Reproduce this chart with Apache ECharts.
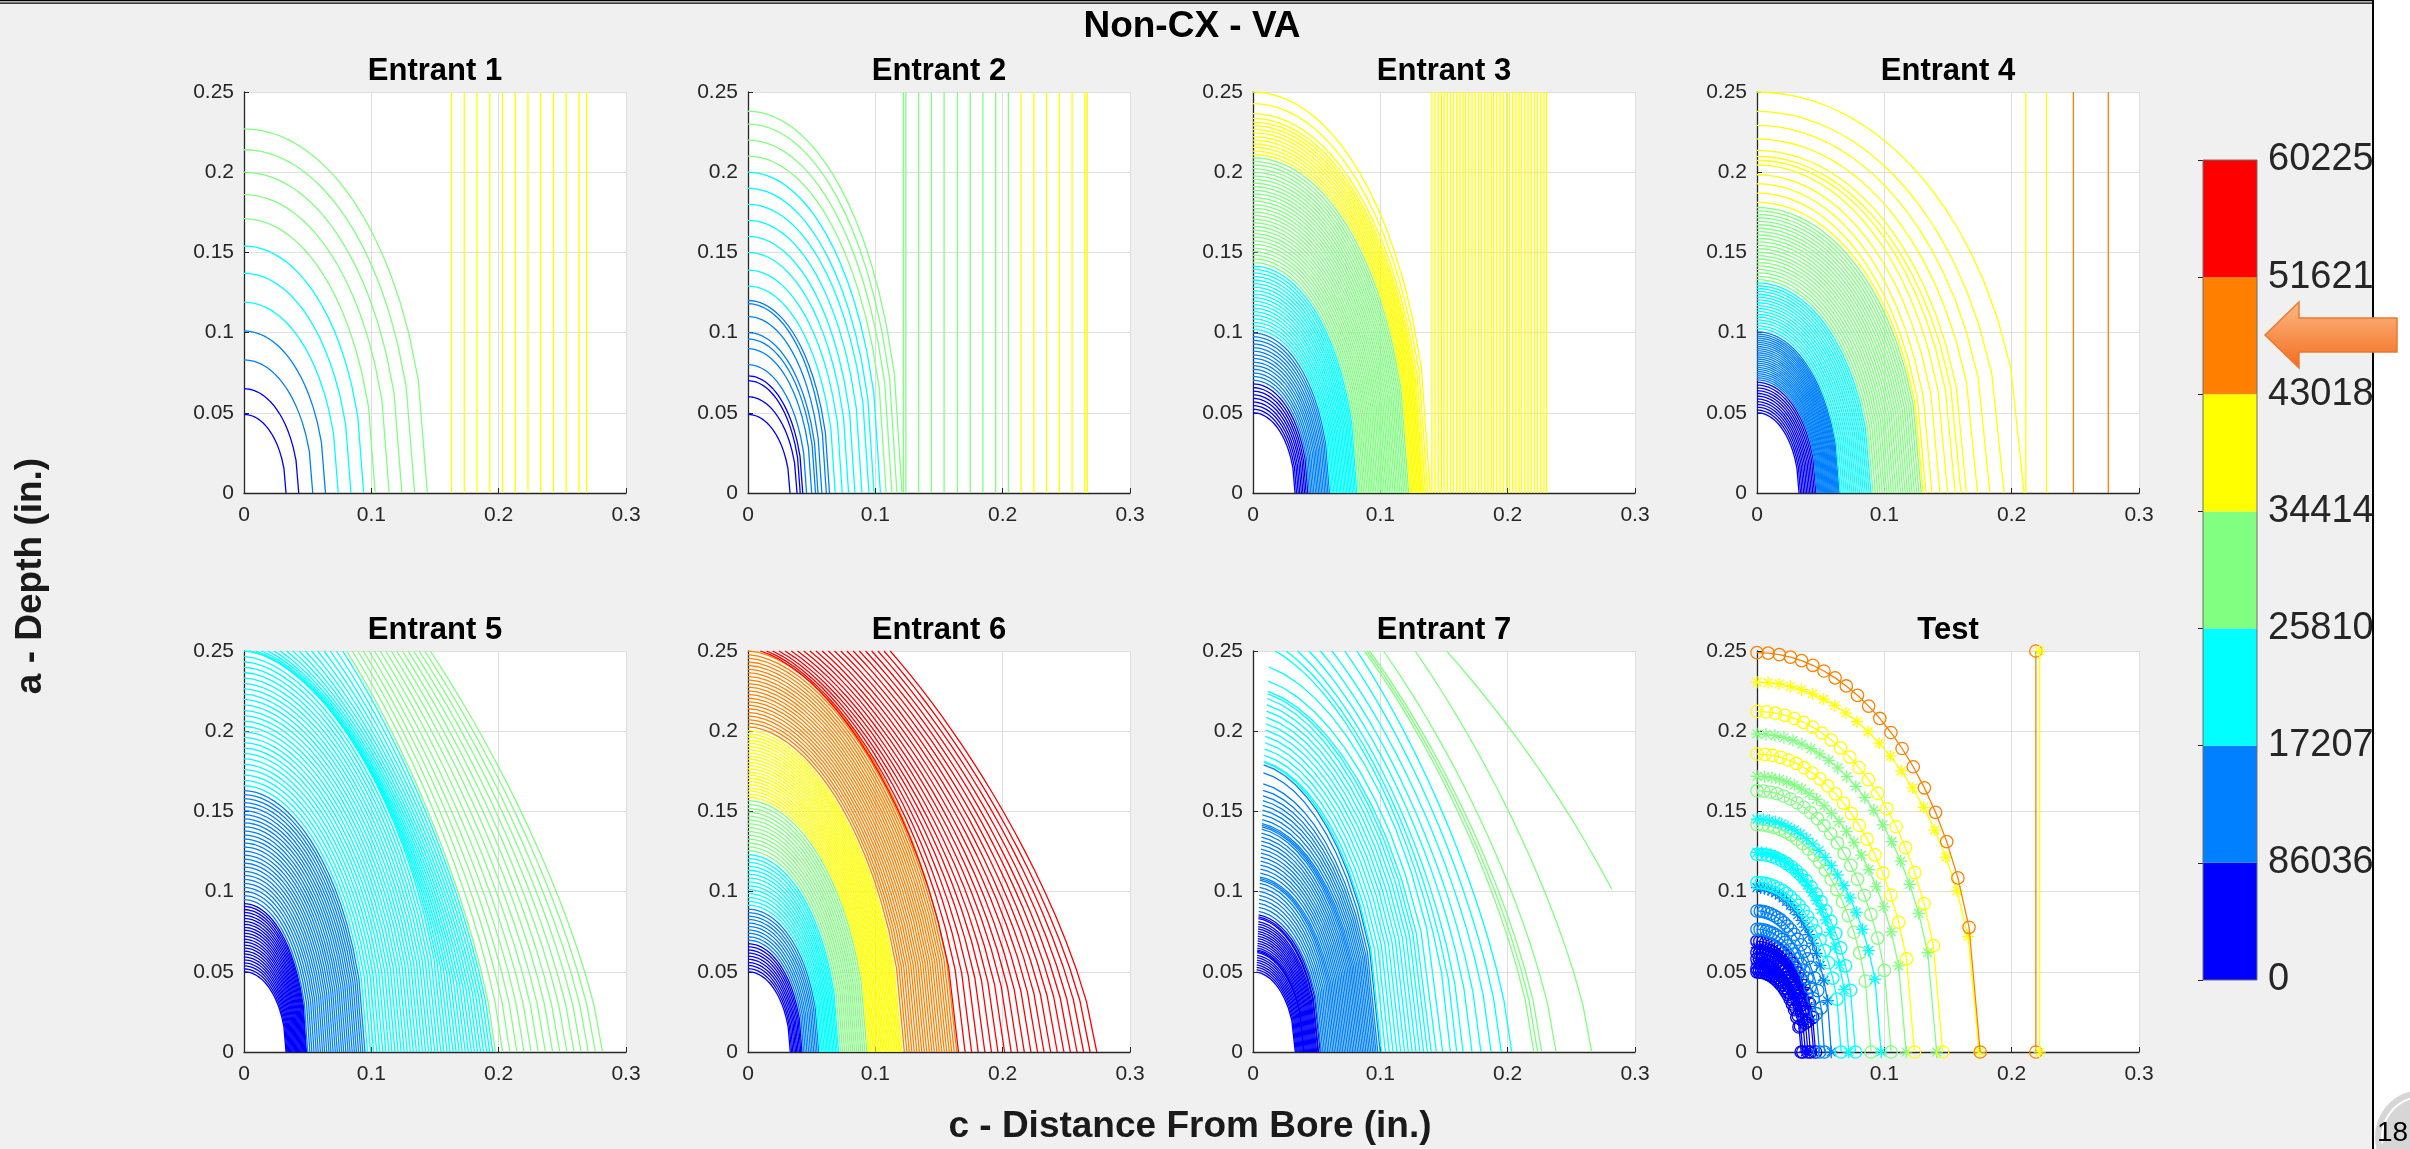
<!DOCTYPE html>
<html>
<head>
<meta charset="utf-8">
<title>Non-CX - VA</title>
<script src="https://cdn.jsdelivr.net/npm/echarts@6/dist/echarts.min.js"></script>
<style>
  html, body { margin: 0; padding: 0; background: #ffffff; overflow: hidden; }
  #chart { width: 2410px; height: 1149px; }
</style>
</head>
<body>
<div id="chart"></div>
<script>
// Crack-front contours: surface length c (in.) against depth a (in.), one curve per
// recorded front, coloured by the cycle band shown in the colour bar.

const LEVEL_COLORS = ['#0000FF', '#0080FF', '#00FFFF', '#80FF80', '#FFFF00', '#FF8000', '#FF0000'];
const COLORBAR_LABELS = ['0', '86036', '17207', '25810', '34414', '43018', '51621', '60225'];
const PANEL_TITLES = ['Entrant 1', 'Entrant 2', 'Entrant 3', 'Entrant 4', 'Entrant 5', 'Entrant 6', 'Entrant 7', 'Test'];
const FIGURE_TITLE = 'Non-CX - VA';
const X_TITLE = 'c - Distance From Bore (in.)';
const Y_TITLE = 'a - Depth (in.)';
const PAGE_NUMBER = '18';

// Fronts grouped by colour band (outer index = band): c at the surface, a at the bore.
const ENTRANT_1_C = [[0.033, 0.043], [0.054, 0.064], [0.074, 0.084, 0.094], [0.103, 0.114, 0.124, 0.134, 0.144]];
const ENTRANT_1_A = [[0.049, 0.065], [0.083, 0.101], [0.119, 0.137, 0.154], [0.171, 0.186, 0.200, 0.214, 0.227]];
// Through-thickness fronts (vertical), c by band.
const ENTRANT_1_THROUGH = [[], [], [], [], [0.163, 0.173, 0.183, 0.193, 0.203, 0.213, 0.223, 0.233, 0.243, 0.253, 0.263, 0.269]];

const ENTRANT_2_C = [
  [0.033, 0.0385, 0.041, 0.043],
  [0.046, 0.050, 0.053, 0.055, 0.058, 0.0615, 0.064],
  [0.0685, 0.074, 0.079, 0.084, 0.0895, 0.095, 0.099, 0.104],
  [0.1085, 0.113, 0.117, 0.121]
];
const ENTRANT_2_A = [
  [0.049, 0.060, 0.070, 0.073],
  [0.080, 0.090, 0.096, 0.100, 0.110, 0.118, 0.120],
  [0.129, 0.139, 0.150, 0.160, 0.170, 0.180, 0.190, 0.200],
  [0.210, 0.220, 0.230, 0.238]
];
const ENTRANT_2_THROUGH = [[], [], [],
  [0.122, 0.124, 0.134, 0.144, 0.154, 0.1645, 0.1745, 0.1845, 0.1945, 0.2045],
  [0.2145, 0.2245, 0.2345, 0.2445, 0.2545, 0.2645, 0.2665]];

const ENTRANT_3_C = [
  [0.0330, 0.0342, 0.0355, 0.0367, 0.0380, 0.0392, 0.0405, 0.0417, 0.0430],
  [0.0442, 0.0454, 0.0466, 0.0478, 0.0491, 0.0503, 0.0515, 0.0527, 0.0539, 0.0551, 0.0564, 0.0576, 0.0588, 0.0600],
  [0.0612, 0.0623, 0.0634, 0.0646, 0.0657, 0.0668, 0.0680, 0.0691, 0.0702, 0.0714, 0.0725, 0.0736, 0.0748, 0.0759, 0.0770, 0.0781, 0.0793, 0.0804, 0.0815],
  [0.0828, 0.0842, 0.0855, 0.0869, 0.0882, 0.0896, 0.0910, 0.0923, 0.0937, 0.0950, 0.0964, 0.0978, 0.0991, 0.1005, 0.1018, 0.1032, 0.1046, 0.1059, 0.1073, 0.1086, 0.1100, 0.1114, 0.1127, 0.1141, 0.1154, 0.1168, 0.1182, 0.1195, 0.1209, 0.1222],
  [0.1235, 0.1245, 0.1256, 0.1266, 0.1276, 0.1287, 0.1297, 0.1308, 0.1318, 0.1329, 0.1340, 0.1355, 0.1372, 0.1392]
];
const ENTRANT_3_A = [
  [0.0500, 0.0522, 0.0545, 0.0567, 0.0590, 0.0612, 0.0635, 0.0657, 0.0680],
  [0.0703, 0.0726, 0.0748, 0.0771, 0.0794, 0.0816, 0.0839, 0.0861, 0.0884, 0.0906, 0.0929, 0.0952, 0.0974, 0.0997],
  [0.1020, 0.1042, 0.1064, 0.1086, 0.1108, 0.1130, 0.1152, 0.1174, 0.1196, 0.1218, 0.1240, 0.1262, 0.1284, 0.1306, 0.1328, 0.1350, 0.1372, 0.1394, 0.1415],
  [0.1437, 0.1460, 0.1482, 0.1505, 0.1527, 0.1550, 0.1572, 0.1595, 0.1617, 0.1640, 0.1662, 0.1685, 0.1707, 0.1730, 0.1752, 0.1775, 0.1797, 0.1820, 0.1842, 0.1865, 0.1887, 0.1910, 0.1932, 0.1955, 0.1977, 0.2000, 0.2022, 0.2045, 0.2067, 0.2090],
  [0.2110, 0.2132, 0.2155, 0.2177, 0.2200, 0.2222, 0.2245, 0.2267, 0.2290, 0.2312, 0.2335, 0.2365, 0.2427, 0.2500]
];
const ENTRANT_3_THROUGH = [[], [], [], [],
  [0.1405, 0.1430, 0.1455, 0.1480, 0.1500, 0.1525, 0.1550, 0.1575, 0.1600, 0.1625, 0.1650, 0.1670, 0.1695, 0.1720, 0.1745, 0.1770, 0.1795, 0.1820, 0.1845,
   0.1870, 0.1890, 0.1915, 0.1940, 0.1965, 0.1990, 0.2015, 0.2040, 0.2065, 0.2090, 0.2110, 0.2135, 0.2160, 0.2185, 0.2210, 0.2235, 0.2260, 0.2285, 0.2305]];

const ENTRANT_4_C = [
  [0.0330, 0.0342, 0.0354, 0.0366, 0.0378, 0.0390, 0.0402, 0.0414, 0.0426, 0.0438, 0.0450, 0.0462],
  [0.0472, 0.0480, 0.0487, 0.0495, 0.0502, 0.0510, 0.0517, 0.0525, 0.0532, 0.0540, 0.0547, 0.0555, 0.0562, 0.0570, 0.0577, 0.0585, 0.0592, 0.0600, 0.0607, 0.0615, 0.0622, 0.0630, 0.0637, 0.0645],
  [0.0655, 0.0670, 0.0685, 0.0700, 0.0715, 0.0730, 0.0745, 0.0760, 0.0775, 0.0790, 0.0805, 0.0820, 0.0835, 0.0850, 0.0865, 0.0880, 0.0895],
  [0.0912, 0.0930, 0.0948, 0.0966, 0.0984, 0.1002, 0.1020, 0.1038, 0.1056, 0.1074, 0.1092, 0.1110, 0.1128, 0.1146, 0.1164, 0.1182, 0.1200, 0.1218, 0.1236, 0.1254, 0.1272, 0.1290],
  [0.1305, 0.1327, 0.1374, 0.1437, 0.1497, 0.1557, 0.1602, 0.1646, 0.1732, 0.1829, 0.1941, 0.2098]
];
const ENTRANT_4_A = [
  [0.0500, 0.0517, 0.0535, 0.0552, 0.0569, 0.0586, 0.0604, 0.0621, 0.0638, 0.0655, 0.0673, 0.0690],
  [0.0705, 0.0718, 0.0731, 0.0744, 0.0757, 0.0770, 0.0783, 0.0796, 0.0809, 0.0822, 0.0835, 0.0848, 0.0861, 0.0874, 0.0887, 0.0900, 0.0913, 0.0926, 0.0939, 0.0952, 0.0965, 0.0978, 0.0991, 0.1005],
  [0.1025, 0.1043, 0.1061, 0.1079, 0.1097, 0.1114, 0.1132, 0.1150, 0.1168, 0.1186, 0.1204, 0.1221, 0.1239, 0.1257, 0.1275, 0.1292, 0.1310],
  [0.1330, 0.1351, 0.1373, 0.1394, 0.1416, 0.1437, 0.1459, 0.1480, 0.1501, 0.1523, 0.1544, 0.1566, 0.1587, 0.1609, 0.1630, 0.1651, 0.1673, 0.1694, 0.1716, 0.1737, 0.1759, 0.1780],
  [0.1812, 0.1870, 0.1928, 0.1984, 0.2045, 0.2074, 0.2099, 0.2136, 0.2207, 0.2292, 0.2379, 0.2500]
];
const ENTRANT_4_THROUGH = [[], [], [], [], [0.2111, 0.2273], [0.2485, 0.2759]];

const ENTRANT_5_C = [
  [0.0330, 0.0337, 0.0344, 0.0351, 0.0358, 0.0365, 0.0372, 0.0379, 0.0386, 0.0393, 0.0400, 0.0407, 0.0414, 0.0421, 0.0428, 0.0435, 0.0442, 0.0449, 0.0456, 0.0463, 0.0470, 0.0477, 0.0484, 0.0490],
  [0.0500, 0.0517, 0.0533, 0.0550, 0.0567, 0.0583, 0.0600, 0.0617, 0.0633, 0.0650, 0.0667, 0.0683, 0.0700, 0.0717, 0.0733, 0.0750, 0.0767, 0.0783, 0.0800, 0.0817, 0.0833, 0.0850, 0.0867, 0.0883, 0.0900, 0.0917, 0.0933, 0.0950],
  [0.0970, 0.0994, 0.1018, 0.1042, 0.1066, 0.1090, 0.1114, 0.1138, 0.1162, 0.1186, 0.1210, 0.1234, 0.1258, 0.1282, 0.1306, 0.1330, 0.1354, 0.1378, 0.1402, 0.1426, 0.1450, 0.1474, 0.1498, 0.1522, 0.1546, 0.1570]
];
const ENTRANT_5_A = [
  [0.0500, 0.0518, 0.0537, 0.0555, 0.0574, 0.0592, 0.0611, 0.0629, 0.0648, 0.0666, 0.0685, 0.0703, 0.0722, 0.0740, 0.0759, 0.0777, 0.0796, 0.0814, 0.0833, 0.0851, 0.0870, 0.0888, 0.0907, 0.0925],
  [0.0950, 0.0975, 0.1000, 0.1026, 0.1051, 0.1076, 0.1101, 0.1126, 0.1152, 0.1177, 0.1202, 0.1227, 0.1252, 0.1278, 0.1303, 0.1328, 0.1353, 0.1378, 0.1404, 0.1429, 0.1454, 0.1479, 0.1504, 0.1530, 0.1555, 0.1580, 0.1605, 0.1630],
  [0.1660, 0.1694, 0.1727, 0.1761, 0.1794, 0.1828, 0.1862, 0.1895, 0.1929, 0.1962, 0.1996, 0.2030, 0.2063, 0.2097, 0.2130, 0.2164, 0.2198, 0.2231, 0.2265, 0.2298, 0.2332, 0.2366, 0.2399, 0.2433, 0.2466, 0.2500]
];
// Fronts that have broken through the back face: c at the surface, c where they meet the back face.
const ENTRANT_5_BREAK_C = [[], [],
  [0.1594, 0.1618, 0.1642, 0.1666, 0.1690, 0.1714, 0.1738, 0.1762, 0.1786, 0.1810, 0.1834, 0.1858, 0.1882, 0.1906, 0.1930, 0.1954],
  [0.1975, 0.2031, 0.2087, 0.2143, 0.2199, 0.2255, 0.2311, 0.2367, 0.2424, 0.2480, 0.2536, 0.2592, 0.2648, 0.2704, 0.2760, 0.2816]];
const ENTRANT_5_BREAK_TOP = [[], [],
  [0.0040, 0.0089, 0.0138, 0.0187, 0.0236, 0.0285, 0.0334, 0.0383, 0.0432, 0.0481, 0.0530, 0.0579, 0.0628, 0.0677, 0.0726, 0.0775],
  [0.0806, 0.0850, 0.0894, 0.0937, 0.0981, 0.1025, 0.1069, 0.1113, 0.1156, 0.1200, 0.1244, 0.1288, 0.1332, 0.1375, 0.1419, 0.1463]];

const ENTRANT_6_C = [
  [0.0332, 0.0342, 0.0352, 0.0363, 0.0373, 0.0383, 0.0393, 0.0404, 0.0414, 0.0424],
  [0.0437, 0.0450, 0.0463, 0.0476, 0.0490, 0.0503, 0.0516, 0.0529, 0.0542, 0.0555],
  [0.0566, 0.0577, 0.0588, 0.0599, 0.0611, 0.0622, 0.0633, 0.0644, 0.0655, 0.0666, 0.0677, 0.0689, 0.0700, 0.0711],
  [0.0727, 0.0743, 0.0759, 0.0775, 0.0791, 0.0807, 0.0823, 0.0838, 0.0854, 0.0870, 0.0886, 0.0902, 0.0918, 0.0934],
  [0.0947, 0.0959, 0.0972, 0.0984, 0.0997, 0.1009, 0.1022, 0.1034, 0.1047, 0.1059, 0.1071, 0.1084, 0.1096, 0.1109, 0.1121, 0.1134, 0.1146, 0.1158, 0.1171, 0.1183, 0.1196, 0.1208],
  [0.1228, 0.1248, 0.1267, 0.1287, 0.1306, 0.1326, 0.1346, 0.1365, 0.1385, 0.1404, 0.1424, 0.1444, 0.1463, 0.1483, 0.1502, 0.1522, 0.1542, 0.1561, 0.1581, 0.1600, 0.1620, 0.1640]
];
const ENTRANT_6_A = [
  [0.0500, 0.0519, 0.0539, 0.0558, 0.0578, 0.0597, 0.0617, 0.0636, 0.0656, 0.0675],
  [0.0697, 0.0718, 0.0740, 0.0761, 0.0783, 0.0804, 0.0826, 0.0847, 0.0869, 0.0890],
  [0.0915, 0.0939, 0.0963, 0.0988, 0.1012, 0.1036, 0.1060, 0.1085, 0.1109, 0.1133, 0.1157, 0.1182, 0.1206, 0.1230],
  [0.1255, 0.1279, 0.1303, 0.1327, 0.1351, 0.1375, 0.1399, 0.1423, 0.1447, 0.1471, 0.1495, 0.1519, 0.1543, 0.1567],
  [0.1588, 0.1608, 0.1628, 0.1647, 0.1667, 0.1687, 0.1707, 0.1727, 0.1746, 0.1766, 0.1786, 0.1806, 0.1826, 0.1846, 0.1865, 0.1885, 0.1905, 0.1925, 0.1945, 0.1964, 0.1984, 0.2004],
  [0.2027, 0.2050, 0.2072, 0.2095, 0.2117, 0.2140, 0.2162, 0.2185, 0.2207, 0.2230, 0.2252, 0.2275, 0.2297, 0.2320, 0.2342, 0.2365, 0.2387, 0.2410, 0.2432, 0.2455, 0.2477, 0.2500]
];
const ENTRANT_6_BREAK_C = [[], [], [], [], [], [],
  [0.1653, 0.1705, 0.1756, 0.1808, 0.1860, 0.1912, 0.1963, 0.2015, 0.2067, 0.2118, 0.2170, 0.2222, 0.2274, 0.2325, 0.2377, 0.2429, 0.2481, 0.2532, 0.2584, 0.2636, 0.2687, 0.2739]];
const ENTRANT_6_BREAK_TOP = [[], [], [], [], [], [],
  [0.0097, 0.0146, 0.0194, 0.0243, 0.0291, 0.0340, 0.0389, 0.0437, 0.0486, 0.0534, 0.0583, 0.0631, 0.0680, 0.0729, 0.0777, 0.0826, 0.0874, 0.0923, 0.0971, 0.1020, 0.1068, 0.1117]];

const ENTRANT_7_C = [
  [0.0332, 0.0340, 0.0348, 0.0356, 0.0364, 0.0372, 0.0380, 0.0388, 0.0396, 0.0400, 0.0404, 0.0412, 0.0420, 0.0428, 0.0436, 0.0444, 0.0452, 0.0460, 0.0468, 0.0476, 0.0484, 0.0492, 0.0500, 0.0510, 0.0515, 0.0528],
  [0.0535, 0.0548, 0.0561, 0.0574, 0.0587, 0.0600, 0.0614, 0.0627, 0.0640, 0.0653, 0.0666, 0.0679, 0.0692, 0.0705, 0.0718, 0.0731, 0.0744, 0.0757, 0.0770, 0.0783, 0.0796, 0.0809, 0.0822, 0.0835, 0.0848, 0.0861, 0.0874, 0.0887, 0.0900, 0.0913, 0.0926, 0.0940, 0.0953, 0.0966, 0.0980, 0.0999],
  [0.1010, 0.1040, 0.1070, 0.1100, 0.1130, 0.1160, 0.1190, 0.1220, 0.1250, 0.1280, 0.1310, 0.1340, 0.1370, 0.1400, 0.1440, 0.1490]
];
const ENTRANT_7_A = [
  [0.0500, 0.0515, 0.0530, 0.0545, 0.0560, 0.0575, 0.0590, 0.0605, 0.0622, 0.0630, 0.0638, 0.0650, 0.0665, 0.0680, 0.0695, 0.0710, 0.0725, 0.0740, 0.0755, 0.0770, 0.0785, 0.0800, 0.0815, 0.0835, 0.0845, 0.0858],
  [0.0880, 0.0905, 0.0930, 0.0955, 0.0980, 0.1005, 0.1030, 0.1055, 0.1075, 0.1085, 0.1095, 0.1120, 0.1145, 0.1170, 0.1195, 0.1220, 0.1245, 0.1270, 0.1295, 0.1320, 0.1345, 0.1370, 0.1395, 0.1410, 0.1420, 0.1430, 0.1455, 0.1485, 0.1515, 0.1545, 0.1575, 0.1605, 0.1640, 0.1680, 0.1750, 0.1800],
  [0.1817, 0.1822, 0.1860, 0.1900, 0.1940, 0.1980, 0.2020, 0.2060, 0.2100, 0.2140, 0.2180, 0.2220, 0.2250, 0.2265, 0.2330, 0.2420]
];
const ENTRANT_7_BREAK_C = [[], [],
  [0.1550, 0.1600, 0.1650, 0.1720, 0.1790, 0.1870, 0.1950, 0.2032],
  [0.2205, 0.2235, 0.2268, 0.2380, 0.2660, 0.3300]];
const ENTRANT_7_BREAK_TOP = [[], [],
  [0.0175, 0.0260, 0.0350, 0.0440, 0.0530, 0.0620, 0.0720, 0.0816],
  [0.0875, 0.0895, 0.0915, 0.1025, 0.1274, 0.1520]];
// Plate edge reached by the last Entrant 7 front.
const ENTRANT_7_EDGE = 0.2817;

// Test fronts, one per record; marker 0 = circle, 1 = asterisk.
const TEST_C = [0.1753, 0.1745, 0.1458, 0.1411, 0.1236, 0.1171, 0.1053, 0.0975, 0.0896, 0.0773, 0.0720, 0.0661, 0.0583, 0.0530, 0.0491, 0.0460, 0.0445, 0.0420, 0.0400, 0.0380, 0.0360, 0.0347];
const TEST_A = [0.2490, 0.2306, 0.2123, 0.1983, 0.1858, 0.1719, 0.1629, 0.1452, 0.1417, 0.1233, 0.1245, 0.1056, 0.1025, 0.0879, 0.0765, 0.0690, 0.0650, 0.0620, 0.0580, 0.0550, 0.0520, 0.0500];
const TEST_LEVEL = [5, 4, 4, 3, 4, 3, 3, 2, 3, 2, 2, 2, 1, 1, 1, 0, 0, 0, 0, 0, 0, 0];
const TEST_MARKER = [0, 1, 0, 1, 0, 1, 0, 1, 0, 0, 1, 0, 1, 0, 0, 0, 1, 0, 0, 1, 0, 0];
const TEST_THROUGH_C = [0.219, 0.222];
const TEST_THROUGH_LEVEL = [5, 4];
const TEST_THROUGH_MARKER = [0, 1];

// ---------------------------------------------------------------------------
const FONT = '"Liberation Sans", Arial, Helvetica, sans-serif';
const AXIS_DARK = '#262626';
const THICKNESS = 0.25;        // depth axis limit / back face
const LINE_W = 1.3;
const PANEL_LEFT = [244, 748, 1253, 1757];
const PANEL_TOP = [92, 651];
const PANEL_W = 382;
const PANEL_H = 401;

function byBand(cs, as) {
  const rows = [];
  cs.forEach((list, band) => list.forEach((c, i) => rows.push([c, as[band][i], band])));
  return rows;
}
function throughRows(cs) {
  const rows = [];
  cs.forEach((list, band) => list.forEach(c => rows.push([c, 0, band])));
  return rows;
}

const clamp01 = v => Math.max(0, Math.min(1, v));
// Shape exponent of a front: 2 = quarter ellipse; large fronts in the
// flattening panels straighten out as they approach the back face.
function frontExponent(a, flatten) {
  return flatten ? 2 - 0.3 * clamp01((a - 0.1) / 0.15) : 2;
}
// Front sampled at equal steps of c.
function frontPoints(c, a, p, n, skipFirst) {
  const pts = [];
  for (let k = skipFirst ? 1 : 0; k <= n; k++) {
    const x = c * k / n;
    pts.push([x, a * Math.pow(Math.max(0, 1 - Math.pow(x / c, p)), 1 / p)]);
  }
  return pts;
}
// Front that has broken through the back face: runs from (xTop, thickness) to (c, 0).
function breakthroughPoints(c, xTop, n, edge) {
  const ratio = xTop / c;
  const p = 1.7 - 0.35 * clamp01(ratio / 0.45);
  const a = THICKNESS / Math.pow(1 - Math.pow(ratio, p), 1 / p);
  const yAt = x => a * Math.pow(Math.max(0, 1 - Math.pow(x / c, p)), 1 / p);
  const pts = [[xTop, THICKNESS]];
  for (let k = 1; k <= n; k++) {
    const x = xTop + (c - xTop) * k / n;
    if (edge != null && x > edge) { pts.push([edge, yAt(edge)]); break; }
    pts.push([x, yAt(x)]);
  }
  return pts;
}

function markerShapes(pt, kind, color) {
  const [x, y] = pt;
  const st = { stroke: color, fill: 'none', lineWidth: LINE_W };
  if (kind === 0) return [{ type: 'circle', shape: { cx: x, cy: y, r: 6.2 }, style: st }];
  const d = 6.2, e = 4.4;
  return [
    { type: 'line', shape: { x1: x - d, y1: y, x2: x + d, y2: y }, style: st },
    { type: 'line', shape: { x1: x, y1: y - d, x2: x, y2: y + d }, style: st },
    { type: 'line', shape: { x1: x - e, y1: y - e, x2: x + e, y2: y + e }, style: st },
    { type: 'line', shape: { x1: x - e, y1: y + e, x2: x + e, y2: y - e }, style: st }
  ];
}

const PANELS = [
  { fronts: byBand(ENTRANT_1_C, ENTRANT_1_A), through: throughRows(ENTRANT_1_THROUGH) },
  { fronts: byBand(ENTRANT_2_C, ENTRANT_2_A), through: throughRows(ENTRANT_2_THROUGH) },
  { fronts: byBand(ENTRANT_3_C, ENTRANT_3_A), through: throughRows(ENTRANT_3_THROUGH) },
  { fronts: byBand(ENTRANT_4_C, ENTRANT_4_A), through: throughRows(ENTRANT_4_THROUGH) },
  { fronts: byBand(ENTRANT_5_C, ENTRANT_5_A), breakthrough: byBand(ENTRANT_5_BREAK_C, ENTRANT_5_BREAK_TOP), flatten: true },
  { fronts: byBand(ENTRANT_6_C, ENTRANT_6_A), breakthrough: byBand(ENTRANT_6_BREAK_C, ENTRANT_6_BREAK_TOP), flatten: true },
  { fronts: byBand(ENTRANT_7_C, ENTRANT_7_A), breakthrough: byBand(ENTRANT_7_BREAK_C, ENTRANT_7_BREAK_TOP), flatten: true,
    samples: 12, skipFirst: true, edge: ENTRANT_7_EDGE },
  { test: true }
];

const tickFmt = v => String(Math.round(v * 100) / 100);
const grids = [], xAxes = [], yAxes = [], series = [];

PANELS.forEach((panel, i) => {
  const col = i % 4, row = Math.floor(i / 4);
  grids.push({ left: PANEL_LEFT[col], top: PANEL_TOP[row], width: PANEL_W, height: PANEL_H,
    show: true, backgroundColor: '#FFFFFF', borderWidth: 0 });
  xAxes.push({
    gridIndex: i, type: 'value', min: 0, max: 0.3, interval: 0.1,
    axisLine: { show: true, onZero: false, lineStyle: { color: AXIS_DARK, width: 1.3 } },
    axisTick: { show: true, inside: true, length: 5, lineStyle: { color: AXIS_DARK } },
    axisLabel: { fontFamily: FONT, fontSize: 21, color: AXIS_DARK, margin: 12, formatter: tickFmt },
    splitLine: { show: true, lineStyle: { color: '#DEDEDE', width: 1 } }
  });
  yAxes.push({
    gridIndex: i, type: 'value', min: 0, max: THICKNESS, interval: 0.05,
    axisLine: { show: true, onZero: false, lineStyle: { color: AXIS_DARK, width: 1.3 } },
    axisTick: { show: true, inside: true, length: 5, lineStyle: { color: AXIS_DARK } },
    axisLabel: { fontFamily: FONT, fontSize: 21, color: AXIS_DARK, margin: 10, formatter: tickFmt },
    splitLine: { show: true, lineStyle: { color: '#DEDEDE', width: 1 } }
  });

  const base = { type: 'custom', xAxisIndex: i, yAxisIndex: i, silent: true, animation: false };

  if (panel.test) {
    const rows = TEST_C.map((c, k) => [c, TEST_A[k], TEST_LEVEL[k], TEST_MARKER[k]]).reverse();
    series.push(Object.assign({}, base, {
      data: rows,
      renderItem: (params, api) => {
        const c = api.value(0), a = api.value(1), band = api.value(2), kind = api.value(3);
        const color = LEVEL_COLORS[band];
        const pts = frontPoints(c, a, 2, 20, false).map(p => api.coord(p));
        const children = [{ type: 'polyline', shape: { points: pts }, style: { stroke: color, lineWidth: LINE_W, fill: 'none' } }];
        pts.forEach(pt => children.push(...markerShapes(pt, kind, color)));
        return { type: 'group', children };
      }
    }));
    series.push(Object.assign({}, base, {
      data: TEST_THROUGH_C.map((c, k) => [c, 0, TEST_THROUGH_LEVEL[k], TEST_THROUGH_MARKER[k]]),
      renderItem: (params, api) => {
        const c = api.value(0), color = LEVEL_COLORS[api.value(2)], kind = api.value(3);
        const p0 = api.coord([c, 0]), p1 = api.coord([c, THICKNESS]);
        const children = [{ type: 'line', shape: { x1: p0[0], y1: p0[1], x2: p1[0], y2: p1[1] }, style: { stroke: color, lineWidth: LINE_W } }];
        children.push(...markerShapes(p0, kind, color), ...markerShapes(p1, kind, color));
        return { type: 'group', children };
      }
    }));
    return;
  }

  const n = panel.samples || 20;
  series.push(Object.assign({}, base, {
    data: panel.fronts,
    renderItem: (params, api) => {
      const c = api.value(0), a = api.value(1);
      const pts = frontPoints(c, a, frontExponent(a, panel.flatten), n, !!panel.skipFirst).map(p => api.coord(p));
      return { type: 'polyline', shape: { points: pts }, style: { stroke: LEVEL_COLORS[api.value(2)], lineWidth: LINE_W, fill: 'none' } };
    }
  }));
  if (panel.breakthrough) {
    series.push(Object.assign({}, base, {
      data: panel.breakthrough,
      renderItem: (params, api) => {
        const pts = breakthroughPoints(api.value(0), api.value(1), 20, panel.edge).map(p => api.coord(p));
        return { type: 'polyline', shape: { points: pts }, style: { stroke: LEVEL_COLORS[api.value(2)], lineWidth: LINE_W, fill: 'none' } };
      }
    }));
  }
  if (panel.through) {
    series.push(Object.assign({}, base, {
      data: panel.through,
      renderItem: (params, api) => {
        const c = api.value(0);
        const p0 = api.coord([c, 0]), p1 = api.coord([c, THICKNESS]);
        return { type: 'line', shape: { x1: p0[0], y1: p0[1], x2: p1[0], y2: p1[1] }, style: { stroke: LEVEL_COLORS[api.value(2)], lineWidth: LINE_W } };
      }
    }));
  }
});

// Colour bar: one band per cycle range on its own value axis.
const CB = PANELS.length;
grids.push({ left: 2203, top: 160, width: 54, height: 820, show: false });
xAxes.push({ gridIndex: CB, type: 'value', min: 0, max: 1, show: false });
yAxes.push({
  gridIndex: CB, type: 'value', min: 0, max: LEVEL_COLORS.length, interval: 1, position: 'right',
  axisLine: { show: false },
  axisTick: { show: true, inside: true, length: 5, lineStyle: { color: AXIS_DARK } },
  axisLabel: { fontFamily: FONT, fontSize: 38, color: AXIS_DARK, margin: 11, formatter: v => COLORBAR_LABELS[v] },
  splitLine: { show: false }
});
series.push({
  type: 'custom', xAxisIndex: CB, yAxisIndex: CB, silent: true, animation: false, z: 1,
  data: LEVEL_COLORS.map((_, band) => [0, band]),
  renderItem: (params, api) => {
    const band = api.value(1);
    const tl = api.coord([0, band + 1]), br = api.coord([1, band]);
    return { type: 'rect', shape: { x: tl[0], y: tl[1], width: br[0] - tl[0], height: br[1] - tl[1] }, style: { fill: LEVEL_COLORS[band] } };
  }
});
series.push({
  type: 'custom', xAxisIndex: CB, yAxisIndex: CB, silent: true, animation: false, z: 3,
  data: [[0, 0]],
  renderItem: (params, api) => {
    const tl = api.coord([0, LEVEL_COLORS.length]), br = api.coord([1, 0]);
    return { type: 'rect', shape: { x: tl[0], y: tl[1], width: br[0] - tl[0], height: br[1] - tl[1] }, style: { fill: 'none', stroke: '#6E6E6E', lineWidth: 1 } };
  }
});

function textEl(text, x, y, font, opts) {
  return Object.assign({
    type: 'text', x, y, silent: true,
    style: Object.assign({ text, font, fill: '#000000', textAlign: 'center', textVerticalAlign: 'middle', align: 'center', verticalAlign: 'middle' }, (opts && opts.style) || {})
  }, (opts && opts.el) || {});
}

const graphics = [
  // slide area right of the figure
  { type: 'rect', shape: { x: 2374, y: 0, width: 40, height: 1149 }, style: { fill: '#FFFFFF' }, silent: true },
  { type: 'circle', shape: { cx: 2422, cy: 1137, r: 47 }, style: { fill: '#D6D6D6' }, silent: true },
  { type: 'arc', shape: { cx: 2422, cy: 1137, r: 40, startAngle: Math.PI * 0.95, endAngle: Math.PI * 1.5 }, style: { stroke: '#FFFFFF', lineWidth: 2, fill: 'none' }, silent: true },
  // figure frame
  { type: 'rect', shape: { x: 0, y: 0, width: 2374, height: 1.2 }, style: { fill: '#000000' }, silent: true },
  { type: 'rect', shape: { x: 0, y: 2.5, width: 2374, height: 1.3 }, style: { fill: '#000000' }, silent: true },
  { type: 'rect', shape: { x: 2372, y: 0, width: 2, height: 1149 }, style: { fill: '#000000' }, silent: true },
  textEl(PAGE_NUMBER, 2377, 1133, '28px ' + FONT, { style: { textAlign: 'left', align: 'left' } }),
  // titles
  textEl(FIGURE_TITLE, 1192, 27, 'bold 37px ' + FONT),
  textEl(X_TITLE, 1190, 1127, 'bold 37px ' + FONT, { style: { fill: '#1A1A1A' } }),
  textEl(Y_TITLE, 31, 576, 'bold 37px ' + FONT, { style: { fill: '#1A1A1A' }, el: { rotation: Math.PI / 2 } }),
  // band marker arrow
  { type: 'polygon', silent: true,
    shape: { points: [[2265, 335], [2299, 302], [2299, 318], [2397, 318], [2397, 352], [2299, 352], [2299, 368]] },
    style: { fill: { type: 'linear', x: 0, y: 0, x2: 0, y2: 1, colorStops: [{ offset: 0, color: '#FDBA86' }, { offset: 1, color: '#F26C1C' }] },
             stroke: '#EC7A30', lineWidth: 1.5 } }
];
PANEL_TITLES.forEach((t, i) => {
  const col = i % 4, row = Math.floor(i / 4);
  graphics.push(textEl(t, PANEL_LEFT[col] + PANEL_W / 2, PANEL_TOP[row] - 21, 'bold 31px ' + FONT));
});

const chart = echarts.init(document.getElementById('chart'), null, { renderer: 'canvas' });
chart.setOption({
  backgroundColor: '#F0F0F0',
  animation: false,
  textStyle: { fontFamily: FONT },
  grid: grids,
  xAxis: xAxes,
  yAxis: yAxes,
  series: series,
  graphic: graphics
});
</script>
</body>
</html>
